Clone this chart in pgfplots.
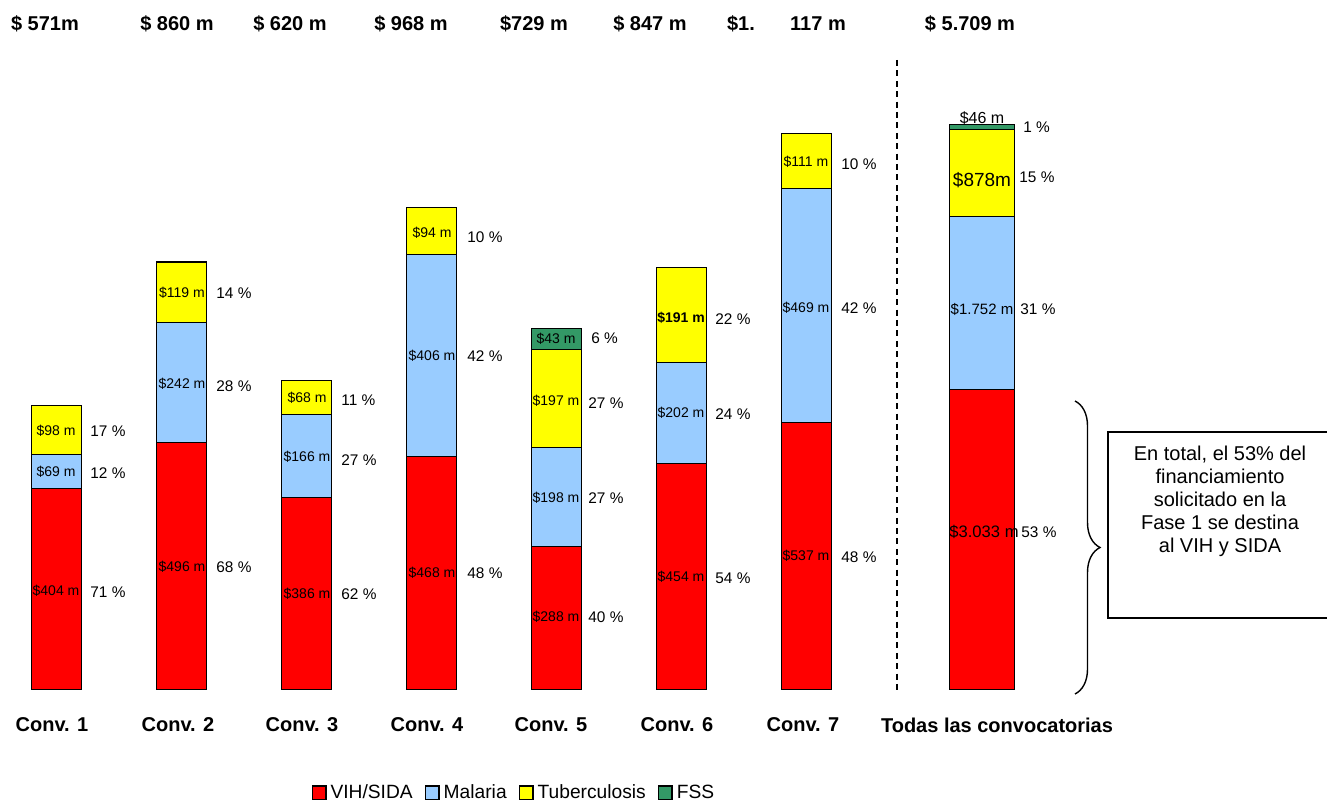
\documentclass[border=0pt]{standalone}
\usepackage{fontspec}
\setmainfont{Liberation Sans}
\usepackage{pgfplots}
\pgfplotsset{compat=1.18}
\usetikzlibrary{decorations.pathreplacing}
\definecolor{cVIH}{HTML}{FF0000}
\definecolor{cMal}{HTML}{99CCFF}
\definecolor{cTB}{HTML}{FFFF00}
\definecolor{cFSS}{HTML}{339966}
\newcommand{\fs}[1]{\fontsize{#1}{#1}\selectfont}
\pgfplotsset{
  mybar/.style={fill=#1, draw=black, line width=0.5pt,
    legend image code/.code={\draw[fill=#1, draw=black, line width=0.7pt] (0pt,-3.4pt) rectangle (6.8pt,3.4pt);}},
}
\begin{document}
\begin{tikzpicture}
\begin{axis}[at={(0,0)}, anchor=south west, scale only axis,
  width=663.5pt, height=401.5pt,
  xmin=-0.448, xmax=10.168, ymin=-226.7, ymax=1384.2,
  axis lines=none, ticks=none,
  ybar stacked, bar width=25pt,
  legend style={draw=none, fill=none, legend columns=-1, font=\fs{9.6pt},
    /tikz/every even column/.append style={column sep=4pt},
    at={(0.388,0.0125)}, anchor=center, inner sep=0pt},
  legend cell align=left]
\addplot[mybar=cVIH] coordinates {(0,404)(1,496)(2,386)(3,468)(4,288)(5,454)(6,537)};
\addplot[mybar=cMal] coordinates {(0,69)(1,242)(2,166)(3,406)(4,198)(5,202)(6,469)};
\addplot[mybar=cTB] coordinates {(0,98)(1,119)(2,68)(3,94)(4,197)(5,191)(6,111)};
\addplot[mybar=cFSS] coordinates {(0,0)(1,3)(2,0)(3,0)(4,43)(5,0)(6,0)};
\legend{VIH/SIDA, Malaria, Tuberculosis, FSS}
\end{axis}
\begin{axis}[at={(0,0)}, anchor=south west, scale only axis,
  width=663.5pt, height=401.5pt,
  xmin=-0.448, xmax=10.168, ymin=-1141.8, ymax=6972.1,
  axis lines=none, ticks=none,
  ybar stacked, bar width=32.5pt]
\addplot[mybar=cVIH] coordinates {(7.404,3033)};
\addplot[mybar=cMal] coordinates {(7.404,1752)};
\addplot[mybar=cTB] coordinates {(7.404,878)};
\addplot[mybar=cFSS] coordinates {(7.404,46)};
\end{axis}
\begin{scope}[x=0.5pt, y=-0.5pt, yshift=401.5pt]
% top totals
\begin{scope}[every node/.style={font=\bfseries\fs{10pt}, inner sep=0pt}]
\node at (45,24) {\$ 571m};
\node at (177,24) {\$ 860 m};
\node at (290,24) {\$ 620 m};
\node at (411,24) {\$ 968 m};
\node at (534,24) {\$729 m};
\node at (650,24) {\$ 847 m};
\node at (741,24) {\$1.};
\node at (818,24) {117 m};
\node at (970,24) {\$ 5.709 m};
% bottom labels
\node at (52,725) {Conv. 1};
\node at (178,725) {Conv. 2};
\node at (302,725) {Conv. 3};
\node at (427,725) {Conv. 4};
\node at (551,725) {Conv. 5};
\node at (677,725) {Conv. 6};
\node at (803,725) {Conv. 7};
\node at (997,725) {Todas las convocatorias};
\end{scope}
% in-bar labels
\begin{scope}[every node/.style={font=\fs{7pt}, inner sep=0pt}]
\node at (56,431) {\$98 m};
\node at (56,472) {\$69 m};
\node at (56,591) {\$404 m};
\node at (182,293) {\$119 m};
\node at (182,384) {\$242 m};
\node at (182,567) {\$496 m};
\node at (307,398) {\$68 m};
\node at (307,457) {\$166 m};
\node at (307,594) {\$386 m};
\node at (432,233) {\$94 m};
\node at (432,356) {\$406 m};
\node at (432,573) {\$468 m};
\node at (556,339) {\$43 m};
\node at (556,401) {\$197 m};
\node at (556,498) {\$198 m};
\node at (556,617) {\$288 m};
\node[font=\bfseries\fs{7pt}] at (681,318) {\$191 m};
\node at (681,413) {\$202 m};
\node at (681,577) {\$454 m};
\node at (806,162) {\$111 m};
\node at (806,308) {\$469 m};
\node at (806,556) {\$537 m};
\node[font=\fs{8pt}] at (982,118) {\$46 m};
\node[font=\fs{9.5pt}] at (982,180) {\$878m};
\node[font=\fs{7.5pt}] at (982,309) {\$1.752 m};
\node[font=\fs{8.3pt}] at (984,532) {\$3.033 m};
\end{scope}
% percentages
\begin{scope}[every node/.style={font=\fs{7.7pt}, inner sep=0pt, anchor=west}]
\node at (90,431) {17 \%};
\node at (90,473) {12 \%};
\node at (90,592) {71 \%};
\node at (216,293) {14 \%};
\node at (216,386) {28 \%};
\node at (216,567) {68 \%};
\node at (341,400) {11 \%};
\node at (341,460) {27 \%};
\node at (341,594) {62 \%};
\node at (467,237) {10 \%};
\node at (467,356) {42 \%};
\node at (467,573) {48 \%};
\node at (591,338) {6 \%};
\node at (588,403) {27 \%};
\node at (588,498) {27 \%};
\node at (588,617) {40 \%};
\node at (715,319) {22 \%};
\node at (715,414) {24 \%};
\node at (715,578) {54 \%};
\node at (841,164) {10 \%};
\node at (841,308) {42 \%};
\node at (841,557) {48 \%};
\node at (1023,127) {1 \%};
\node at (1019,177) {15 \%};
\node at (1020,309) {31 \%};
\node at (1021,532) {53 \%};
\end{scope}
% dashed separator
\draw[line width=1.1pt, dash pattern=on 3pt off 2.2pt] (897,60) -- (897,690);
% brace
\draw[decorate, decoration={brace, amplitude=12.5pt}, line width=0.7pt] (1075,401) -- (1075,694);
% box
\draw[line width=0.8pt] (1330,432) -- (1108,432) -- (1108,618) -- (1330,618);
\node[align=center, font=\fontsize{10pt}{11.5pt}\selectfont, inner sep=0pt] at (1220,501)
  {En total, el 53\% del\\financiamiento\\solicitado en la\\Fase 1 se destina\\al VIH y SIDA};
\end{scope}
\pgfresetboundingbox
\useasboundingbox (0,0) rectangle (663.5pt,401.5pt);
\end{tikzpicture}
\end{document}
